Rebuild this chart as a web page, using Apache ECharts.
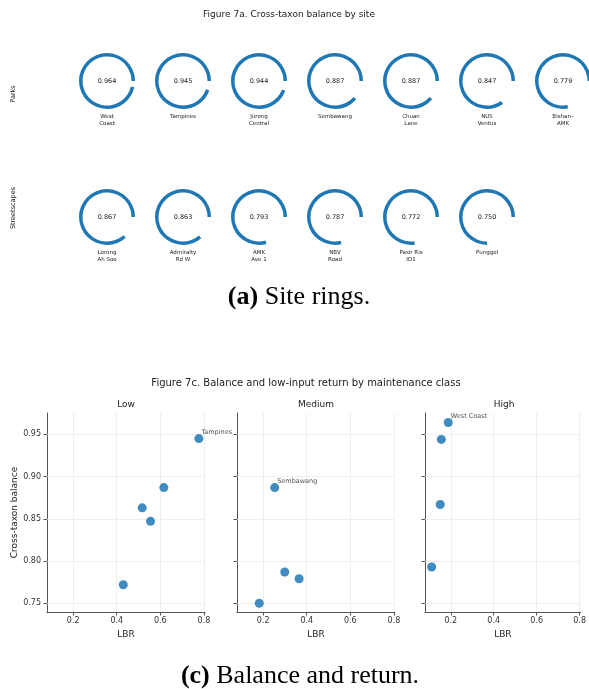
<!DOCTYPE html>
<html>
<head>
<meta charset="utf-8">
<script src="https://cdn.jsdelivr.net/npm/echarts@6/dist/echarts.min.js"></script>
<style>
  html, body { margin: 0; padding: 0; background: #fff; }
  #chart { width: 589px; height: 689px; }
</style>
</head>
<body>
<div id="chart"></div>
<script>
// Sites, in ring order (parks first, then streetscapes)
const siteNames = ['West Coast', 'Tampines', 'Jurong Central', 'Sembawang', 'Chuan Lane', 'NUS Ventus', 'Bishan–AMK',
                   'Lorong Ah Soo', 'Admiralty Rd W', 'AMK Ave 1', 'NBV Road', 'Pasir Ris ID1', 'Punggol'];
const ringLabels = ['West\nCoast', 'Tampines', 'Jurong\nCentral', 'Sembawang', 'Chuan\nLane', 'NUS\nVentus', 'Bishan–\nAMK',
                    'Lorong\nAh Soo', 'Admiralty\nRd W', 'AMK\nAve 1', 'NBV\nRoad', 'Pasir Ris\nID1', 'Punggol'];
const siteType = ['Parks', 'Parks', 'Parks', 'Parks', 'Parks', 'Parks', 'Parks',
                  'Streetscapes', 'Streetscapes', 'Streetscapes', 'Streetscapes', 'Streetscapes', 'Streetscapes'];
// Cross-taxon balance per site
const balance = [0.964, 0.945, 0.944, 0.887, 0.887, 0.847, 0.779,
                 0.867, 0.863, 0.793, 0.787, 0.772, 0.750];
// Low-input biodiversity return (LBR) per site
const lbr = [0.188, 0.777, 0.156, 0.253, 0.616, 0.555, 0.365,
             0.151, 0.517, 0.111, 0.299, 0.430, 0.182];
const maintClass = ['High', 'Low', 'High', 'Medium', 'Low', 'Low', 'Medium',
                    'High', 'Low', 'High', 'Medium', 'Low', 'Medium'];
const rowNames = ['Parks', 'Streetscapes'];
const classes = ['Low', 'Medium', 'High'];
const labelledSites = ['Tampines', 'Sembawang', 'West Coast'];
const yTicks = [0.75, 0.80, 0.85, 0.90, 0.95];
const xTicks = [0.2, 0.4, 0.6, 0.8];

const BLUE = '#1f77b4';
const SANS = 'DejaVu Sans';
const SERIF = 'Liberation Serif';

// ---------- ring layout ----------
const ringX0 = 107, ringDX = 76;
const rowY = [81, 217];
const rowLabelY = [94, 208];

const series = [];
const graphics = [];

rowNames.forEach((row, r) => {
  const idx = siteType.map((t, i) => t === row ? i : -1).filter(i => i >= 0);
  idx.forEach((i, col) => {
    const cx = ringX0 + ringDX * col;
    const cy = rowY[r];
    series.push({
      type: 'pie',
      center: [cx, cy],
      radius: [24.5, 28],
      startAngle: 0,
      clockwise: false,
      silent: true,
      animation: false,
      labelLine: { show: false },
      data: [
        { value: balance[i], itemStyle: { color: BLUE },
          label: { show: true, position: 'center', formatter: () => balance[i].toFixed(3),
                   fontFamily: SANS, fontSize: 6.5, color: '#222' } },
        { value: 1 - balance[i], itemStyle: { color: 'rgba(0,0,0,0)' }, label: { show: false } }
      ]
    });
    graphics.push({
      type: 'text', x: cx, y: cy + 32,
      style: { text: ringLabels[i], align: 'center', verticalAlign: 'top',
               font: '5.5px "DejaVu Sans"', lineHeight: 7.2, fill: '#222' }
    });
  });
  graphics.push({
    type: 'text', x: 13, y: rowLabelY[r], rotation: Math.PI / 2,
    style: { text: row, align: 'center', verticalAlign: 'middle',
             font: '6.5px "DejaVu Sans"', fill: '#222' }
  });
});

graphics.push({
  type: 'text', x: 289, y: 15,
  style: { text: 'Figure 7a. Cross-taxon balance by site', align: 'center', verticalAlign: 'middle',
           font: '9px "DejaVu Sans"', fill: '#222' }
});
graphics.push({
  type: 'text', x: 299, y: 297,
  style: { text: '{b|(a)} Site rings.', align: 'center', verticalAlign: 'middle',
           font: '26px "Liberation Serif"', fill: '#000',
           rich: { b: { fontWeight: 'bold', fontFamily: SERIF, fontSize: 26 } } }
});
graphics.push({
  type: 'text', x: 300, y: 676,
  style: { text: '{b|(c)} Balance and return.', align: 'center', verticalAlign: 'middle',
           font: '26px "Liberation Serif"', fill: '#000',
           rich: { b: { fontWeight: 'bold', fontFamily: SERIF, fontSize: 26 } } }
});
graphics.push({
  type: 'text', x: 306, y: 383,
  style: { text: 'Figure 7c. Balance and low-input return by maintenance class', align: 'center',
           verticalAlign: 'middle', font: '10px "DejaVu Sans"', fill: '#222' }
});

// ---------- scatter panels ----------
const panelLeft = [47, 237, 425];
const panelW = 158, panelTop = 413, panelH = 199;
const xMin = 0.08, xMax = 0.805;
const yMin = 0.7397, yMax = 0.9753;
const AXIS_COLOR = '#555';
const GRID_COLOR = '#ebebeb';

const grids = [], xAxes = [], yAxes = [], titles = [];

classes.forEach((cls, k) => {
  grids.push({ left: panelLeft[k], top: panelTop, width: panelW, height: panelH, containLabel: false });
  xAxes.push({
    type: 'value', gridIndex: k, min: xMin, max: xMax,
    name: 'LBR', nameLocation: 'middle', nameGap: 18,
    nameTextStyle: { fontFamily: SANS, fontSize: 9, color: '#222' },
    axisLine: { show: true, lineStyle: { color: AXIS_COLOR, width: 1 } },
    axisTick: { show: true, length: 3.5, customValues: xTicks, lineStyle: { color: AXIS_COLOR } },
    axisLabel: { show: true, customValues: xTicks, formatter: v => v.toFixed(1), margin: 5,
                 fontFamily: SANS, fontSize: 8, color: '#333' },
    splitLine: { show: false }
  });
  yAxes.push({
    type: 'value', gridIndex: k, min: yMin, max: yMax,
    name: k === 0 ? 'Cross-taxon balance' : '', nameLocation: 'middle', nameGap: 27, nameRotate: 90,
    nameTextStyle: { fontFamily: SANS, fontSize: 9, color: '#222' },
    axisLine: { show: true, lineStyle: { color: AXIS_COLOR, width: 1 } },
    axisTick: { show: true, length: 3.5, customValues: yTicks, lineStyle: { color: AXIS_COLOR } },
    axisLabel: { show: k === 0, customValues: yTicks, formatter: v => v.toFixed(2), margin: 6,
                 fontFamily: SANS, fontSize: 8, color: '#333' },
    splitLine: { show: false }
  });
  graphics.push({
    type: 'text', x: panelLeft[k] + panelW / 2, y: 405,
    style: { text: cls, align: 'center', verticalAlign: 'middle', font: '9px "DejaVu Sans"', fill: '#222' }
  });

  const pts = [];
  siteNames.forEach((name, i) => {
    if (maintClass[i] !== cls) return;
    const p = { name: name, value: [lbr[i], balance[i]] };
    if (labelledSites.includes(name)) {
      p.label = { show: true, position: 'right', distance: 0, offset: [-2, -6],
                  formatter: '{b}', fontFamily: SANS, fontSize: 6.5, color: '#333' };
    }
    pts.push(p);
  });

  series.push({
    type: 'scatter', xAxisIndex: k, yAxisIndex: k, z: 3,
    symbolSize: 9, silent: true, animation: false,
    itemStyle: { color: BLUE, opacity: 0.85 },
    data: pts,
    markLine: {
      silent: true, symbol: 'none', z: 1, animation: false,
      label: { show: false },
      lineStyle: { color: GRID_COLOR, width: 0.8, type: 'solid' },
      data: yTicks.map(v => ({ yAxis: v })).concat(xTicks.map(v => ({ xAxis: v })))
    }
  });
});

const chart = echarts.init(document.getElementById('chart'), null, { renderer: 'canvas' });
chart.setOption({
  animation: false,
  backgroundColor: '#fff',
  textStyle: { fontFamily: SANS },
  grid: grids,
  xAxis: xAxes,
  yAxis: yAxes,
  series: series,
  graphic: { elements: graphics }
});
</script>
</body>
</html>
